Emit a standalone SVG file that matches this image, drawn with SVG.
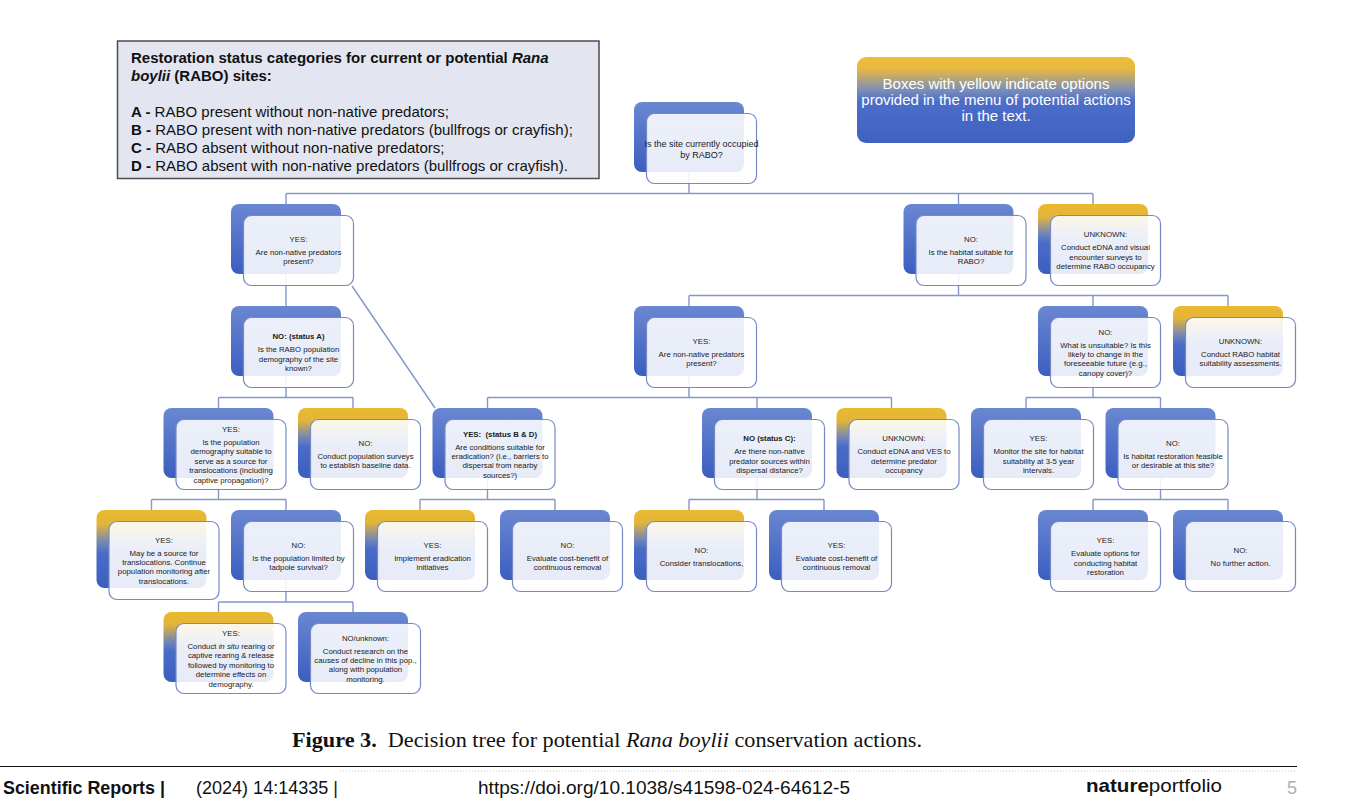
<svg xmlns="http://www.w3.org/2000/svg" width="1346" height="808" viewBox="0 0 1346 808">
<defs>
<linearGradient id="gb" x1="0" y1="0" x2="0" y2="1">
<stop offset="0" stop-color="#6a87d1"/><stop offset="1" stop-color="#3b5ec0"/>
</linearGradient>
<linearGradient id="gy" x1="0" y1="0" x2="0" y2="1">
<stop offset="0" stop-color="#ebb92f"/><stop offset="0.18" stop-color="#e2b53a"/><stop offset="0.42" stop-color="#7386b6"/><stop offset="0.56" stop-color="#4a6cc8"/><stop offset="1" stop-color="#3b5ec0"/>
</linearGradient>
<linearGradient id="gi" x1="0" y1="0" x2="0" y2="1">
<stop offset="0" stop-color="#f0be35"/><stop offset="0.14" stop-color="#e6b843"/><stop offset="0.38" stop-color="#7d8fb8"/><stop offset="0.52" stop-color="#4c6dc8"/><stop offset="1" stop-color="#3f61c1"/>
</linearGradient>
<style>
.back{fill:url(#gb);}
.backy{fill:url(#gy);}
.front{fill:#ffffff;fill-opacity:0.88;stroke:#7689c4;stroke-width:1.2;}
.t{font-family:"Liberation Sans",Arial,sans-serif;font-size:7.8px;fill:#1a1a1a;text-anchor:middle;}
.tb{font-weight:bold;}
.conn{stroke:#8596c8;stroke-width:1.4;fill:none;}
.leg{font-family:"Liberation Sans",Arial,sans-serif;font-size:15px;fill:#111;}
.info{font-family:"Liberation Sans",Arial,sans-serif;font-size:15px;fill:#ffffff;text-anchor:middle;}
.foot{font-family:"Liberation Sans",Arial,sans-serif;font-size:19px;}
</style>
</defs>
<rect x="0" y="0" width="1346" height="808" fill="#ffffff"/>

<g id="legend">
<rect x="117.5" y="41" width="481.5" height="137.5" fill="#e3e6f1" stroke="#4d4d4d" stroke-width="1.5"/>
<text class="leg" x="131" y="62.5" font-weight="bold">Restoration status categories for current or potential <tspan font-style="italic">Rana</tspan></text>
<text class="leg" x="131" y="81" font-weight="bold"><tspan font-style="italic">boylii</tspan> (RABO) sites:</text>
<text class="leg" x="131" y="116.5"><tspan font-weight="bold">A -</tspan> RABO present without non-native predators;</text>
<text class="leg" x="131" y="134.5"><tspan font-weight="bold">B -</tspan> RABO present with non-native predators (bullfrogs or crayfish);</text>
<text class="leg" x="131" y="152.5"><tspan font-weight="bold">C -</tspan> RABO absent without non-native predators;</text>
<text class="leg" x="131" y="170.5"><tspan font-weight="bold">D -</tspan> RABO absent with non-native predators (bullfrogs or crayfish).</text>
</g>

<g id="info">
<rect x="857" y="57" width="278" height="86" rx="9" fill="url(#gi)"/>
<text class="info" x="996" y="89">Boxes with yellow indicate options</text>
<text class="info" x="996" y="105">provided in the menu of potential actions</text>
<text class="info" x="996" y="121">in the text.</text>
</g>

<g id="connectors" class="conn">
<path d="M689 172V193.5M286 193.5H1093M286 193.5V204M958.5 193.5V204M1093 193.5V204"/>
<path d="M286 274V306"/>
<path d="M352 286L435 408"/>
<path d="M286 376V397.5M218.5 397.5H353M218.5 397.5V408M353 397.5V408"/>
<path d="M218.5 478V499.5M151.5 499.5H286M151.5 499.5V510M286 499.5V510"/>
<path d="M286 580V602M218.5 602H353M218.5 602V612M353 602V612"/>
<path d="M958.5 274V295.5M689 295.5H1228M689 295.5V306M1093 295.5V306M1228 295.5V306"/>
<path d="M689 376V397.5M487.5 397.5H891.5M487.5 397.5V408M757 397.5V408M891.5 397.5V408"/>
<path d="M487.5 478V499.5M420 499.5H555M420 499.5V510M555 499.5V510"/>
<path d="M757 478V499.5M689 499.5H824M689 499.5V510M824 499.5V510"/>
<path d="M1093 376V397.5M1026 397.5H1160.5M1026 397.5V408M1160.5 397.5V408"/>
<path d="M1160.5 478V499.5M1093 499.5H1228M1093 499.5V510M1228 499.5V510"/>
</g>

<g id="n-top">
<rect class="back" x="634" y="102" width="110" height="70" rx="8"/>
<rect class="front" x="646.5" y="113.5" width="110" height="70" rx="8"/>
<text class="t" style="font-size:9px"><tspan x="701.5" y="146.6">Is the site currently occupied</tspan><tspan x="701.5" y="157.6">by RABO?</tspan></text>
</g>

<g id="n-yes1">
<rect class="back" x="231" y="204" width="110" height="70" rx="8"/>
<rect class="front" x="243.5" y="215.5" width="110" height="70" rx="8"/>
<text class="t"><tspan x="298.5" y="242">YES:</tspan><tspan x="298.5" y="255">Are non-native predators</tspan><tspan x="298.5" y="264.4">present?</tspan></text>
</g>

<g id="n-no1">
<rect class="back" x="903.5" y="204" width="110" height="70" rx="8"/>
<rect class="front" x="916" y="215.5" width="110" height="70" rx="8"/>
<text class="t"><tspan x="971" y="242">NO:</tspan><tspan x="971" y="255">Is the habitat suitable for</tspan><tspan x="971" y="264.4">RABO?</tspan></text>
</g>

<g id="n-unk1">
<rect class="backy" x="1038" y="204" width="110" height="70" rx="8"/>
<rect class="front" x="1050.5" y="215.5" width="110" height="70" rx="8"/>
<text class="t"><tspan x="1105.5" y="237.3">UNKNOWN:</tspan><tspan x="1105.5" y="250.3">Conduct eDNA and visual</tspan><tspan x="1105.5" y="259.7">encounter surveys to</tspan><tspan x="1105.5" y="269.1">determine RABO occupancy</tspan></text>
</g>

<g id="n-a">
<rect class="back" x="231" y="306" width="110" height="70" rx="8"/>
<rect class="front" x="243.5" y="317.5" width="110" height="70" rx="8"/>
<text class="t"><tspan class="tb" x="298.5" y="339.3">NO: (status A)</tspan><tspan x="298.5" y="352.3">Is the RABO population</tspan><tspan x="298.5" y="361.7">demography of the site</tspan><tspan x="298.5" y="371.1">known?</tspan></text>
</g>

<g id="n-yes2">
<rect class="back" x="634" y="306" width="110" height="70" rx="8"/>
<rect class="front" x="646.5" y="317.5" width="110" height="70" rx="8"/>
<text class="t"><tspan x="701.5" y="344">YES:</tspan><tspan x="701.5" y="357">Are non-native predators</tspan><tspan x="701.5" y="366.4">present?</tspan></text>
</g>

<g id="n-no2">
<rect class="back" x="1038" y="306" width="110" height="70" rx="8"/>
<rect class="front" x="1050.5" y="317.5" width="110" height="70" rx="8"/>
<text class="t"><tspan x="1105.5" y="334.6">NO:</tspan><tspan x="1105.5" y="347.6">What is unsuitable? Is this</tspan><tspan x="1105.5" y="357">likely to change in the</tspan><tspan x="1105.5" y="366.4">foreseeable future (e.g.,</tspan><tspan x="1105.5" y="375.8">canopy cover)?</tspan></text>
</g>

<g id="n-unk2">
<rect class="backy" x="1173" y="306" width="110" height="70" rx="8"/>
<rect class="front" x="1185.5" y="317.5" width="110" height="70" rx="8"/>
<text class="t"><tspan x="1240.5" y="344">UNKNOWN:</tspan><tspan x="1240.5" y="357">Conduct RABO habitat</tspan><tspan x="1240.5" y="366.4">suitability assessments.</tspan></text>
</g>

<g id="n-demo">
<rect class="back" x="163.5" y="408" width="110" height="70" rx="8"/>
<rect class="front" x="176" y="419.5" width="110" height="70" rx="8"/>
<text class="t"><tspan x="231" y="431.9">YES:</tspan><tspan x="231" y="444.9">Is the population</tspan><tspan x="231" y="454.3">demography suitable to</tspan><tspan x="231" y="463.7">serve as a source for</tspan><tspan x="231" y="473.1">translocations (including</tspan><tspan x="231" y="482.5">captive propagation)?</tspan></text>
</g>

<g id="n-surv">
<rect class="backy" x="298" y="408" width="110" height="70" rx="8"/>
<rect class="front" x="310.5" y="419.5" width="110" height="70" rx="8"/>
<text class="t"><tspan x="365.5" y="446">NO:</tspan><tspan x="365.5" y="459">Conduct population surveys</tspan><tspan x="365.5" y="468.4">to establish baseline data.</tspan></text>
</g>

<g id="n-bd">
<rect class="back" x="432.5" y="408" width="110" height="70" rx="8"/>
<rect class="front" x="445" y="419.5" width="110" height="70" rx="8"/>
<text class="t"><tspan class="tb" x="500" y="436.6" style="white-space:pre">YES:  (status B &amp; D)</tspan><tspan x="500" y="449.6">Are conditions suitable for</tspan><tspan x="500" y="459">eradication? (i.e., barriers to</tspan><tspan x="500" y="468.4">dispersal from nearby</tspan><tspan x="500" y="477.8">sources?)</tspan></text>
</g>

<g id="n-c">
<rect class="back" x="702" y="408" width="110" height="70" rx="8"/>
<rect class="front" x="714.5" y="419.5" width="110" height="70" rx="8"/>
<text class="t"><tspan class="tb" x="769.5" y="441.3">NO (status C):</tspan><tspan x="769.5" y="454.3">Are there non-native</tspan><tspan x="769.5" y="463.7">predator sources within</tspan><tspan x="769.5" y="473.1">dispersal distance?</tspan></text>
</g>

<g id="n-unk3">
<rect class="backy" x="836.5" y="408" width="110" height="70" rx="8"/>
<rect class="front" x="849" y="419.5" width="110" height="70" rx="8"/>
<text class="t"><tspan x="904" y="441.3">UNKNOWN:</tspan><tspan x="904" y="454.3">Conduct eDNA and VES to</tspan><tspan x="904" y="463.7">determine predator</tspan><tspan x="904" y="473.1">occupancy</tspan></text>
</g>

<g id="n-mon">
<rect class="back" x="971" y="408" width="110" height="70" rx="8"/>
<rect class="front" x="983.5" y="419.5" width="110" height="70" rx="8"/>
<text class="t"><tspan x="1038.5" y="441.3">YES:</tspan><tspan x="1038.5" y="454.3">Monitor the site for habitat</tspan><tspan x="1038.5" y="463.7">suitability at 3-5 year</tspan><tspan x="1038.5" y="473.1">intervals.</tspan></text>
</g>

<g id="n-rest">
<rect class="back" x="1105.5" y="408" width="110" height="70" rx="8"/>
<rect class="front" x="1118" y="419.5" width="110" height="70" rx="8"/>
<text class="t"><tspan x="1173" y="446">NO:</tspan><tspan x="1173" y="459">Is habitat restoration feasible</tspan><tspan x="1173" y="468.4">or desirable at this site?</tspan></text>
</g>

<g id="n-src">
<rect class="backy" x="96.5" y="510" width="110" height="78" rx="8"/>
<rect class="front" x="109" y="521.5" width="110" height="78" rx="8"/>
<text class="t"><tspan x="164" y="542.6">YES:</tspan><tspan x="164" y="555.6">May be a source for</tspan><tspan x="164" y="565">translocations. Continue</tspan><tspan x="164" y="574.4">population monitoring after</tspan><tspan x="164" y="583.8">translocations.</tspan></text>
</g>

<g id="n-tad">
<rect class="back" x="231" y="510" width="110" height="70" rx="8"/>
<rect class="front" x="243.5" y="521.5" width="110" height="70" rx="8"/>
<text class="t"><tspan x="298.5" y="548">NO:</tspan><tspan x="298.5" y="561">Is the population limited by</tspan><tspan x="298.5" y="570.4">tadpole survival?</tspan></text>
</g>

<g id="n-erad">
<rect class="backy" x="365" y="510" width="110" height="70" rx="8"/>
<rect class="front" x="377.5" y="521.5" width="110" height="70" rx="8"/>
<text class="t"><tspan x="432.5" y="548">YES:</tspan><tspan x="432.5" y="561">Implement eradication</tspan><tspan x="432.5" y="570.4">initiatives</tspan></text>
</g>

<g id="n-rem1">
<rect class="back" x="500" y="510" width="110" height="70" rx="8"/>
<rect class="front" x="512.5" y="521.5" width="110" height="70" rx="8"/>
<text class="t"><tspan x="567.5" y="548">NO:</tspan><tspan x="567.5" y="561">Evaluate cost-benefit of</tspan><tspan x="567.5" y="570.4">continuous removal</tspan></text>
</g>

<g id="n-trans">
<rect class="backy" x="634" y="510" width="110" height="70" rx="8"/>
<rect class="front" x="646.5" y="521.5" width="110" height="70" rx="8"/>
<text class="t"><tspan x="701.5" y="552.7">NO:</tspan><tspan x="701.5" y="565.7">Consider translocations,</tspan></text>
</g>

<g id="n-rem2">
<rect class="back" x="769" y="510" width="110" height="70" rx="8"/>
<rect class="front" x="781.5" y="521.5" width="110" height="70" rx="8"/>
<text class="t"><tspan x="836.5" y="548">YES:</tspan><tspan x="836.5" y="561">Evaluate cost-benefit of</tspan><tspan x="836.5" y="570.4">continuous removal</tspan></text>
</g>

<g id="n-opt">
<rect class="back" x="1038" y="510" width="110" height="70" rx="8"/>
<rect class="front" x="1050.5" y="521.5" width="110" height="70" rx="8"/>
<text class="t"><tspan x="1105.5" y="543.3">YES:</tspan><tspan x="1105.5" y="556.3">Evaluate options for</tspan><tspan x="1105.5" y="565.7">conducting habitat</tspan><tspan x="1105.5" y="575.1">restoration</tspan></text>
</g>

<g id="n-none">
<rect class="back" x="1173" y="510" width="110" height="70" rx="8"/>
<rect class="front" x="1185.5" y="521.5" width="110" height="70" rx="8"/>
<text class="t"><tspan x="1240.5" y="552.7">NO:</tspan><tspan x="1240.5" y="565.7">No further action.</tspan></text>
</g>

<g id="n-situ">
<rect class="backy" x="163.5" y="612" width="110" height="70" rx="8"/>
<rect class="front" x="176" y="623.5" width="110" height="70" rx="8"/>
<text class="t"><tspan x="231" y="635.9">YES:</tspan><tspan x="231" y="648.9">Conduct <tspan font-style="italic">in situ</tspan> rearing or</tspan><tspan x="231" y="658.3">captive rearing &amp; release</tspan><tspan x="231" y="667.7">followed by monitoring to</tspan><tspan x="231" y="677.1">determine effects on</tspan><tspan x="231" y="686.5">demography.</tspan></text>
</g>

<g id="n-res">
<rect class="back" x="298" y="612" width="110" height="70" rx="8"/>
<rect class="front" x="310.5" y="623.5" width="110" height="70" rx="8"/>
<text class="t"><tspan x="365.5" y="640.6">NO/unknown:</tspan><tspan x="365.5" y="653.6">Conduct research on the</tspan><tspan x="365.5" y="663">causes of decline in this pop.,</tspan><tspan x="365.5" y="672.4">along with population</tspan><tspan x="365.5" y="681.8">monitoring.</tspan></text>
</g>

<g id="caption">
<text x="292" y="747" font-family="'Liberation Serif','Times New Roman',serif" font-size="21" fill="#111" textLength="630" lengthAdjust="spacingAndGlyphs" style="white-space:pre"><tspan font-weight="bold">Figure 3.</tspan>  Decision tree for potential <tspan font-style="italic">Rana boylii</tspan> conservation actions.</text>
</g>

<g id="footer">
<line x1="0" y1="766.5" x2="1297" y2="766.5" stroke="#111" stroke-width="1"/>
<line x1="340" y1="771" x2="1297" y2="771" stroke="#c4c8d0" stroke-width="1" stroke-dasharray="1 2"/>
<text class="foot" x="3" y="794" fill="#111" font-weight="bold" textLength="162" lengthAdjust="spacingAndGlyphs">Scientific Reports |</text>
<text class="foot" x="196" y="794" fill="#111" textLength="142" lengthAdjust="spacingAndGlyphs">(2024) 14:14335 |</text>
<text class="foot" x="478" y="794" fill="#111" textLength="372" lengthAdjust="spacingAndGlyphs">https://doi.org/10.1038/s41598-024-64612-5</text>
<text class="foot" x="1086" y="792" fill="#111" font-size="20" textLength="136" lengthAdjust="spacingAndGlyphs"><tspan font-weight="bold">nature</tspan>portfolio</text>
<text class="foot" x="1287" y="794" fill="#a9b0bd" textLength="10" lengthAdjust="spacingAndGlyphs">5</text>
</g>
</svg>
